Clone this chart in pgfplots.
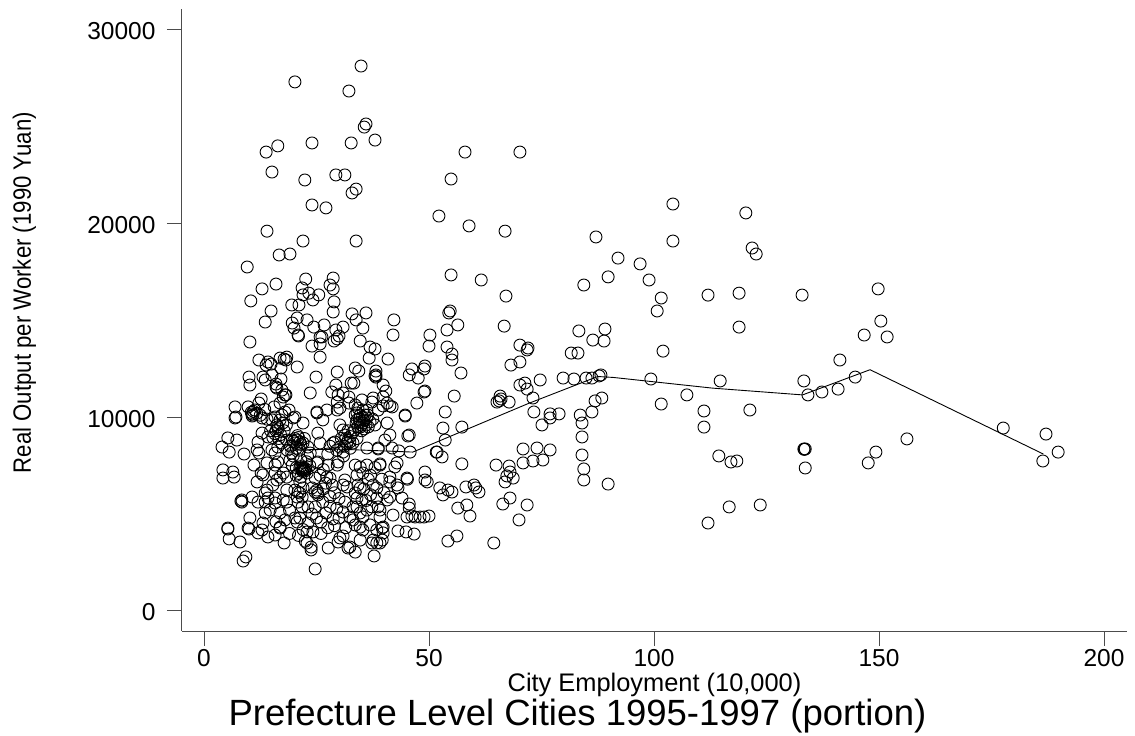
\documentclass[border=0pt]{standalone}
\usepackage{pgfplots}
\usepackage{fontspec}
\setmainfont{Liberation Sans}
\pgfplotsset{compat=1.18}
\begin{document}
\begin{tikzpicture}[x=1pt,y=1pt]
\useasboundingbox (0,0) rectangle (1135,736);
\begin{axis}[
  at={(182pt,105pt)},anchor=south west,
  width=945pt,height=622pt,scale only axis,
  xmin=-4.89,xmax=205.1,ymin=-1032,ymax=31063,
  axis x line*=bottom,axis y line*=left,
  axis line style={-,black!70,line width=1pt},
  xtick={0,50,100,150,200},ytick={0,10000,20000,30000},
  tick align=outside,major tick length=15pt,
  tick style={black!70,line width=1pt},
  /pgf/number format/assume math mode=true,
  /pgf/number format/1000 sep={},
  scaled ticks=false,
  tick label style={font=\fontsize{24.5}{26}\selectfont},
  xticklabel style={yshift=0pt},
  yticklabel style={xshift=-8pt,yshift=-1.5pt},
  xlabel={City Employment (10,000)},
  ylabel={Real Output per Worker (1990 Yuan)},
  title={Prefecture Level Cities 1995-1997 (portion)},
  xlabel style={at={(axis description cs:0.5,-0.098)},anchor=base,font=\fontsize{25.4}{27}\selectfont},
  ylabel style={at={(axis description cs:-0.1598,0.544)},anchor=base,yscale=1.13,font=\fontsize{22.2}{24}\selectfont},
  title style={at={(axis description cs:0.4185,-0.1623)},anchor=base,font=\fontsize{36.5}{39}\selectfont},
]
\addplot[only marks,mark=o,mark size=6pt,mark options={black,line width=0.9pt,fill=none},forget plot] table {
x y
34.9 28120
20.2 27300
32.2 26830
35.6 24970
36 25130
38 24300
32.7 24150
24 24150
13.8 23680
16.4 24000
15.1 22650
22.4 22240
29.3 22500
31.3 22500
33.8 21770
32.9 21570
24 20950
27.1 20800
14 19600
9.6 17750
16.7 18370
19.1 18420
22 19090
33.8 19090
22.6 17130
28.7 17180
16 16870
12.9 16620
21.8 16670
28 16820
28.7 16620
10.4 16000
22 16310
23.3 16400
24.2 16050
25.5 16310
19.5 15790
21.1 15790
28.9 15950
28.7 15430
14.9 15480
13.6 14910
19.6 14860
20.7 15120
22.9 15020
20 14600
21 14190
20.9 14240
24.4 14650
26.7 14760
24 13670
25.8 13780
26.2 14140
25.8 14140
29.3 14500
30.9 14650
30 14190
29.6 14040
28.9 13930
32.9 15330
36 15380
33.8 15020
35.3 14600
42.2 15020
42 14240
50.2 14240
50 13670
34.7 13930
36.9 13620
38 13520
36.7 13050
40.9 13000
25.8 13100
10.2 13880
12.2 12950
14.2 12850
14.9 12740
13.8 12690
16.9 13050
18.4 13100
17.8 13000
18.2 12950
17.1 12540
20.7 12590
10 12070
10.2 11660
13.1 12070
13.6 11920
15.1 12180
17.1 11970
16 11710
16.2 11500
16 11560
17.3 11400
18 11150
24.9 12070
29.6 12330
23.6 11250
29.3 11660
28.4 11300
32.7 11760
33.3 11760
33.6 12540
34.4 12380
38.2 12380
38.2 12180
38.2 12070
38 12130
39.8 11660
40.4 11350
39.8 11040
41.3 10580
46.2 12490
45.6 12180
47.6 12020
49.1 12640
48.9 12490
49.1 11350
48.9 11300
47.3 10730
44.7 10110
6.9 10530
9.8 10530
7.1 10010
12.7 10940
12.2 10730
11.3 10370
10.7 10170
10.9 10110
15.6 10530
16.9 10730
17.6 11040
18.2 11150
18.9 10370
18 10270
17.3 10110
15.8 10010
20.2 10010
25.1 10270
27.3 10370
29.6 10780
29.8 11150
30.9 11250
32.2 11040
29.6 10370
30.2 10470
32.2 10730
33.6 10630
34.2 10470
35.1 10890
35.3 10370
34 10220
34.7 10110
36.2 10370
37.6 10990
37.3 10780
38.7 10370
39.8 10580
40.7 10730
41.8 10530
36.4 10110
6.9 9960
10.7 10060
12.9 9960
16.2 9600
16.4 9500
15.1 9860
16.9 9860
19.8 9960
22 9700
12.9 9180
5.3 8930
7.3 8820
4 8460
5.6 8200
8.9 8100
12 8720
11.8 8310
12.2 8150
14.2 8980
15.1 8310
15.8 8150
16.4 8460
17.3 8670
18.4 8820
19.6 8820
20.7 8820
21.3 8720
20.2 8670
22 8670
23.1 8460
25.3 9180
25.8 8670
23.6 8150
25.1 7640
25.3 7690
11.1 7530
14 7640
12.7 7120
13.1 7020
4.2 7280
6.4 7170
4.2 6860
6.7 6910
11.8 6660
15.8 7530
16.4 7690
15.8 7120
16.9 6910
16.2 6760
17.6 7120
19.1 7790
19.6 7530
21.3 7380
21.8 7280
22 7330
21.7 7380
22.2 7280
22.4 7220
22.6 7330
18.4 6910
22.9 7120
24.7 6860
27.6 7530
29.6 7530
28 6860
27.3 6910
29.8 7690
28.7 8670
29.1 8720
30.2 9600
30.9 9340
31.3 9080
31.8 8670
32.4 8720
33.1 8670
30.9 8200
30.2 8460
34 9860
34.7 9750
35.3 9700
34.2 9500
36.2 9960
36.9 9750
35.8 10110
33.6 10110
38 9600
26.4 9860
25.1 10220
40.7 9700
44.7 10060
41.3 9080
40.2 8820
45.3 9030
45.6 9080
36.2 8410
38.7 8360
38.7 8410
41.8 8410
43.3 8260
45.8 8200
51.6 8200
42.9 7640
42.4 7430
39.1 7590
39.1 7530
33.6 7530
34.7 7430
36.2 7530
35.3 7120
34 7020
31.3 6760
30.9 6500
31.8 6400
34.2 6500
34.7 6350
33.6 6090
37.6 6500
38.4 6350
41.3 6910
41.3 6660
42.9 6500
43.1 6350
45.1 6860
45.2 6800
49.1 7170
49.1 6760
49.6 6660
44 5830
45.6 5520
45.6 5310
45.1 4850
46.2 4900
46.9 4850
48 4850
48.9 4850
50 4900
42 4950
43.1 4130
44.9 4080
46.7 3970
39.8 4330
39.6 4280
39.8 4030
39.6 3660
39.1 3510
38.4 3510
37.6 3660
37.3 3510
37.8 2840
34.7 3660
33.6 3040
32 3250
32.4 3300
30.9 3870
30.2 3770
29.8 3560
27.6 3250
24.7 2170
23.8 3300
23.8 3150
22.9 3510
24.2 4080
22.9 4080
26 4590
28.7 4750
27.1 5060
17.8 3510
16.9 4330
16.9 4280
14.2 3820
15.8 3920
12.9 4180
12 4030
10.2 4800
9.8 4280
10 4230
5.3 4280
5.3 4230
5.6 3720
8 3560
8.7 2580
9.3 2790
8.4 5730
8.4 5620
8.2 5670
10.7 5880
12 5620
13.6 5620
14.2 5830
15.8 5830
15.8 5570
14.7 5210
13.6 5060
16.9 5060
18.4 5620
20.7 5880
20.9 5620
21.3 6090
21.8 5370
23.1 5370
24.7 6140
25.3 6090
24.7 5370
26.4 5620
14 6240
15.3 6500
13.6 6090
20.2 4800
20.7 4590
23.1 4540
21.3 4800
13.1 4540
21.3 6660
20.9 6140
21.8 5880
20.2 6240
18.4 6240
17.6 5730
25.1 6240
25.3 5990
24 6350
22 6350
33.1 4700
33.6 4440
32.4 4850
34 5370
34.7 5060
35.3 4850
34.7 4330
35.3 4180
36.2 5210
37.3 5370
38.7 5370
39.1 5210
39.1 4850
34 5830
33.1 5370
31.3 5620
30.9 5110
36.9 4440
38.4 4180
35.1 5730
40.7 5730
41.3 5880
38.4 5830
52.2 20380
54.9 22290
58 23680
70.2 23680
58.9 19870
66.9 19600
54.9 17340
61.6 17080
67.1 16250
54.7 15480
54.4 15380
56.4 14760
54 14500
66.7 14700
54 13620
55.1 13260
55.1 12950
57.1 12280
70.2 13720
72 13570
71.8 13470
70.2 12850
68.2 12690
74.7 11920
71.3 11760
70.2 11660
71.8 11450
79.8 12020
82.2 11970
84.9 12020
86.2 12020
87.8 12130
88.2 12180
55.6 11090
65.1 10780
65.6 10840
66 10940
65.8 11090
67.8 10780
73.1 10990
73.3 10270
76.9 10170
76.9 9960
78.9 10170
75.1 9600
83.6 10110
86.2 10270
86.9 10840
88.4 10990
53.6 10270
53.1 9440
57.3 9490
53.6 8820
51.8 8200
52.9 7950
57.3 7590
52.4 6350
54.2 6240
55.1 6140
53.1 5990
58.2 6400
60 6500
60.4 6350
61.1 6140
56.4 5310
58.4 5470
59.1 4900
54.2 3610
56.2 3870
64.4 3510
64.9 7530
67.8 7480
68 7170
67.3 6970
66.9 6660
68.7 6860
70.9 7640
70.9 8360
74 8410
75.3 7790
73.1 7740
76.9 8310
66.4 5520
68 5830
71.8 5470
70 4700
84 9700
84 8980
84 8050
84.4 7330
84.4 6760
89.8 6550
84.4 16820
87.1 19300
89.8 17240
92 18210
96.9 17910
98.9 17080
101.6 16150
100.7 15480
83.3 14450
89.1 14550
88.9 13930
86.4 13980
81.6 13310
83.1 13310
99.3 11970
102 13410
101.6 10680
104.2 19090
104.2 21000
107.3 11150
111.1 10320
111.1 9490
112 16300
112 4540
114.7 11870
114.4 8000
116.7 5370
117.1 7690
118.4 7740
118.9 16400
118.9 14650
120.4 20540
121.3 10370
121.8 18730
122.7 18420
123.6 5470
132.9 16300
133.3 11870
134.2 11150
133.3 8360
133.6 8360
133.4 8340
133.6 7380
137.3 11300
140.9 11450
141.3 12950
144.7 12070
146.7 14240
147.6 7640
149.3 8200
149.8 16620
150.4 14960
151.8 14140
156.2 8880
177.6 9440
187.1 9130
186.4 7740
189.8 8200
20.2 8900
21 8950
20.8 9050
21.5 8600
19.9 8750
22.3 8900
19.2 8500
20.5 8400
21.2 8300
18.5 8300
19.5 8150
21.5 7450
22.1 7400
21.9 7200
22.3 7300
21 7100
20.5 7400
22.8 7700
20.5 7000
21.5 6900
23.5 7500
19.8 8000
21.5 7800
23 8000
16 9300
16.5 9400
15.7 9150
17 9100
15.3 8950
16.6 8900
17.8 9300
18.3 9600
14.8 9300
17.5 9700
11 10300
10.5 10250
11.7 10200
12.5 10100
13.5 10400
14 9900
35 9600
35.5 9850
34.5 9900
35.2 10000
34.8 9500
36 9600
35.6 9400
33.8 9700
36.5 9500
35 9300
33.5 9350
37.5 9900
31.5 8900
32 8800
31.2 8500
32.5 9000
33 9200
32 9300
30.5 8900
31 8000
32.5 8400
29.5 8300
28 8500
34 8900
27.5 8100
26.5 6300
27 6600
25.8 7000
26.5 7300
28.5 6500
28 5900
29 6100
30 5800
29.5 5300
28 5400
30 4800
29 4400
31.5 4300
26 4000
27.5 4300
25 4800
24 5000
19 5200
18 4700
16 4600
19 4000
21 3900
22 4200
22.5 3600
37 7000
38 7400
36.5 6800
39.5 6800
37 6000
35.5 6300
36 5700
40 6100
};
\addplot[black,line width=0.9pt,forget plot] coordinates {
(18,8300) (30,8350) (46.4,8200) (72,10700) (87.5,12100) (91,12050) (113,11500) (133,11150) (148,12450) (186.5,8100)
};
\end{axis}
\end{tikzpicture}
\end{document}
